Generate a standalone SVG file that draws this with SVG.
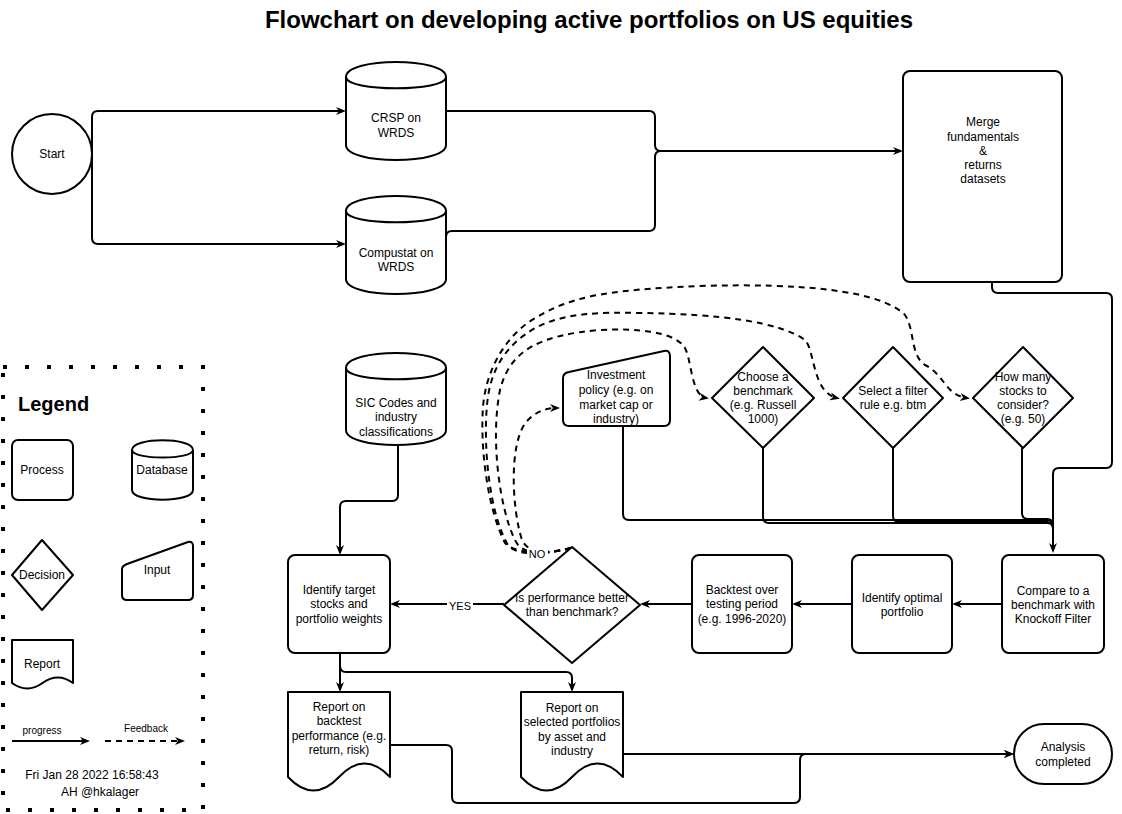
<svg xmlns="http://www.w3.org/2000/svg" width="1122" height="814" viewBox="0 0 1122 814">
<defs>
<style>
.s{fill:#fff;stroke:#000;stroke-width:2;stroke-linejoin:round}
.t{font-family:"Liberation Sans",Arial,Helvetica,sans-serif;font-size:12px;fill:#000;text-anchor:middle}
.c{fill:none;stroke:#000;stroke-width:2;stroke-linejoin:round}
.d{fill:none;stroke:#000;stroke-width:2;stroke-dasharray:6 5}
.lbl{font-family:"Liberation Sans",Arial,Helvetica,sans-serif;font-size:11px;fill:#000;text-anchor:middle}
</style>
<marker id="a" viewBox="0 0 10 10" refX="7" refY="5" markerWidth="10" markerHeight="10" markerUnits="userSpaceOnUse" orient="auto">
<path d="M0,1 L10,5 L0,9 L3,5 Z" fill="#000"/>
</marker>
</defs>
<rect width="1122" height="814" fill="#fff"/>
<text x="589" y="28" style="font-family:'Liberation Sans',Arial,sans-serif;font-size:24px;font-weight:bold;text-anchor:middle">Flowchart on developing active portfolios on US equities</text>

<g id="connectors">
<path class="c" d="M92,154 L92,117 Q92,111 98,111 L343,111" marker-end="url(#a)"/>
<path class="c" d="M92,154 L92,238 Q92,244 98,244 L343,244" marker-end="url(#a)"/>
<path class="c" d="M446,111 L649,111 Q655,111 655,117 L655,145 Q655,151 661,151 L900,151" marker-end="url(#a)"/>
<path class="c" d="M446,237 Q446,231 452,231 L649,231 Q655,231 655,225 L655,157 Q655,151 661,151"/>
<path class="c" d="M992,282 L992,287 Q992,293 998,293 L1106,293 Q1112,293 1112,299 L1112,462 Q1112,468 1106,468 L1059,468 Q1053,468 1053,474 L1053,550" marker-end="url(#a)"/>
<path class="c" d="M623,426 L623,514 Q623,520 629,520 L1047,520 Q1053,520 1053,526 L1053,550"/>
<path class="c" d="M763,447 L763,517 Q763,523 769,523 L1047,523 Q1053,523 1053,529 L1053,550"/>
<path class="c" d="M893,447 L893,516 Q893,522 899,522 L1047,522 Q1053,522 1053,528 L1053,550"/>
<path class="c" d="M1022,446 L1022,513 Q1022,519 1028,519 L1047,519 Q1053,519 1053,525 L1053,550"/>
<path class="c" d="M398,445 L398,495 Q398,501 392,501 L346,501 Q340,501 340,507 L340,552" marker-end="url(#a)"/>
<path class="c" d="M1002,604 L955,604" marker-end="url(#a)"/>
<path class="c" d="M852,604 L795,604" marker-end="url(#a)"/>
<path class="c" d="M692,604 L643,604" marker-end="url(#a)"/>
<path class="c" d="M504,604 L393,604" marker-end="url(#a)"/>
<rect x="447" y="599" width="26" height="13" fill="#fff"/>
<text class="lbl" x="460" y="610">YES</text>
<path class="c" d="M340,653 L340,689" marker-end="url(#a)"/>
<path class="c" d="M340,653 L340,666 Q340,672 346,672 L566,672 Q572,672 572,678 L572,689" marker-end="url(#a)"/>
<path class="c" d="M623,754 L1011,754" marker-end="url(#a)"/>
<path class="c" d="M390,745 L446,745 Q452,745 452,751 L452,797 Q452,803 458,803 L794,803 Q800,803 800,797 L800,760 Q800,754 806,754 L1011,754" marker-end="url(#a)"/>
<path class="d" d="M571,548 C550,553 530,556 522,540 C512,510 508,440 528,420 C536,412 545,408 557,408" marker-end="url(#a)"/>
<path class="d" d="M571,548 C545,555 522,556 515,540 C500,510 490,440 500,390 C510,350 540,335 600,330 C640,328 670,332 683,345 C692,355 690,395 706,398" marker-end="url(#a)"/>
<path class="d" d="M571,548 C540,556 515,555 508,545 C490,515 483,450 487,405 C490,370 505,345 537,327 C565,313 600,312 640,313 C720,314 780,322 805,340 C815,350 812,392 837,398" marker-end="url(#a)"/>
<path class="d" d="M571,548 C540,556 512,552 505,543 C488,510 480,450 483,407 C486,370 505,335 537,317 C570,298 600,290 700,286 C800,283 880,290 905,315 C915,330 910,355 925,365 C945,375 945,395 967,398" marker-end="url(#a)"/>
<rect x="527" y="548" width="21" height="12" fill="#fff"/>
<text class="lbl" x="537" y="558">NO</text>
</g>

<g id="start">
<circle class="s" cx="52" cy="154" r="40"/>
<text class="t" x="52" y="158">Start</text>
</g>
<g id="crsp">
<path class="s" d="M346,77 C346,57 446,57 446,77 L446,145 C446,165 346,165 346,145 Z"/>
<path class="s" d="M346,77 C346,92 446,92 446,77" fill="none"/>
<text class="t" x="396" y="122">CRSP on</text>
<text class="t" x="396" y="137">WRDS</text>
</g>
<g id="compustat">
<path class="s" d="M346,211 C346,191 446,191 446,211 L446,279 C446,299 346,299 346,279 Z"/>
<path class="s" d="M346,211 C346,226 446,226 446,211" fill="none"/>
<text class="t" x="396" y="257">Compustat on</text>
<text class="t" x="396" y="271">WRDS</text>
</g>
<g id="merge">
<rect class="s" x="903" y="71" width="159" height="211" rx="7"/>
<text class="t" x="983" y="126">Merge</text>
<text class="t" x="983" y="141">fundamentals</text>
<text class="t" x="983" y="155">&amp;</text>
<text class="t" x="983" y="169">returns</text>
<text class="t" x="983" y="183">datasets</text>
</g>
<g id="sic">
<path class="s" d="M346,368 C346,348 446,348 446,368 L446,430 C446,450 346,450 346,430 Z"/>
<path class="s" d="M346,368 C346,383 446,383 446,368" fill="none"/>
<text class="t" x="396" y="407">SIC Codes and</text>
<text class="t" x="396" y="421">industry</text>
<text class="t" x="396" y="436">classifications</text>
</g>
<g id="investment">
<path class="s" d="M569,372 L664,351 Q670,350 670,356 L670,420 Q670,426 664,426 L569,426 Q563,426 563,420 L563,378 Q563,373 569,372 Z"/>
<text class="t" x="616" y="379">Investment</text>
<text class="t" x="616" y="394">policy (e.g. on</text>
<text class="t" x="616" y="409">market cap or</text>
<text class="t" x="616" y="423">industry)</text>
</g>
<g id="benchmark">
<path class="s" d="M763,347 L814,398 L763,448 L712,398 Z"/>
<text class="t" x="763" y="381">Choose a</text>
<text class="t" x="763" y="395">benchmark</text>
<text class="t" x="763" y="409">(e.g. Russell</text>
<text class="t" x="763" y="423">1000)</text>
</g>
<g id="filter">
<path class="s" d="M893,347 L943,398 L893,448 L843,398 Z"/>
<text class="t" x="893" y="395">Select a filter</text>
<text class="t" x="893" y="409">rule e.g. btm</text>
</g>
<g id="howmany">
<path class="s" d="M1023,347 L1073,398 L1023,448 L973,398 Z"/>
<text class="t" x="1023" y="381">How many</text>
<text class="t" x="1023" y="395">stocks to</text>
<text class="t" x="1023" y="409">consider?</text>
<text class="t" x="1023" y="423">(e.g. 50)</text>
</g>
<g id="identify-target">
<rect class="s" x="288" y="555" width="102" height="98" rx="7"/>
<text class="t" x="339" y="594">Identify target</text>
<text class="t" x="339" y="608">stocks and</text>
<text class="t" x="339" y="623">portfolio weights</text>
</g>
<g id="decision">
<path class="s" d="M572,547 L640,605 L572,663 L504,605 Z"/>
<text class="t" x="572" y="602">Is performance better</text>
<text class="t" x="572" y="616">than benchmark?</text>
</g>
<g id="backtest">
<rect class="s" x="692" y="555" width="100" height="98" rx="7"/>
<text class="t" x="742" y="594">Backtest over</text>
<text class="t" x="742" y="608">testing period</text>
<text class="t" x="742" y="623">(e.g. 1996-2020)</text>
</g>
<g id="optimal">
<rect class="s" x="852" y="555" width="100" height="98" rx="7"/>
<text class="t" x="902" y="602">Identify optimal</text>
<text class="t" x="902" y="616">portfolio</text>
</g>
<g id="compare">
<rect class="s" x="1002" y="555" width="102" height="98" rx="7"/>
<text class="t" x="1053" y="595">Compare to a</text>
<text class="t" x="1053" y="609">benchmark with</text>
<text class="t" x="1053" y="623">Knockoff Filter</text>
</g>
<g id="report-backtest">
<path class="s" d="M288,692 L390,692 L390,777 Q364.5,750 339,777 Q313.5,804 288,777 Z"/>
<text class="t" x="339" y="711">Report on</text>
<text class="t" x="339" y="725">backtest</text>
<text class="t" x="339" y="740">performance (e.g.</text>
<text class="t" x="339" y="754">return, risk)</text>
</g>
<g id="report-selected">
<path class="s" d="M521,692 L623,692 L623,777 Q597.5,750 572,777 Q546.5,804 521,777 Z"/>
<text class="t" x="572" y="712">Report on</text>
<text class="t" x="572" y="726">selected portfolios</text>
<text class="t" x="572" y="741">by asset and</text>
<text class="t" x="572" y="755">industry</text>
</g>
<g id="analysis">
<rect class="s" x="1014" y="724" width="98" height="60" rx="30"/>
<text class="t" x="1063" y="751">Analysis</text>
<text class="t" x="1063" y="766">completed</text>
</g>

<g id="legend">
<rect x="3" y="367" width="200" height="443" fill="none" stroke="#000" stroke-width="4" stroke-dasharray="4 18"/>
<text x="18" y="411" style="font-family:'Liberation Sans',Arial,sans-serif;font-size:20px;font-weight:bold">Legend</text>
<rect class="s" x="12" y="440" width="61" height="60" rx="6"/>
<text class="t" x="42" y="474">Process</text>
<path class="s" d="M132,450 C132,437 193,437 193,450 L193,490 C193,503 132,503 132,490 Z"/>
<path class="s" d="M132,450 C132,460 193,460 193,450" fill="none"/>
<text class="t" x="162" y="474">Database</text>
<path class="s" d="M42,540 L73,575 L42,610 L12,575 Z"/>
<text class="t" x="42" y="579">Decision</text>
<path class="s" d="M127,564 L188,542 Q193,541 193,546 L193,595 Q193,600 188,600 L127,600 Q122,600 122,595 L122,569 Q122,566 127,564 Z"/>
<text class="t" x="157" y="574">Input</text>
<path class="s" d="M12,640 L73,640 L73,683 Q57.75,672 42.5,683 Q27.25,694 12,683 Z"/>
<text class="t" x="42" y="668">Report</text>
<path class="c" d="M12,741 L87,741" marker-end="url(#a)"/>
<text class="lbl" x="42" y="734" style="font-size:10px">progress</text>
<path class="d" d="M105,741 L182,741" marker-end="url(#a)"/>
<text class="lbl" x="146" y="732" style="font-size:10px">Feedback</text>
<text class="t" x="92" y="779">Fri Jan 28 2022 16:58:43</text>
<text class="t" x="100" y="796">AH @hkalager</text>
</g>
</svg>
